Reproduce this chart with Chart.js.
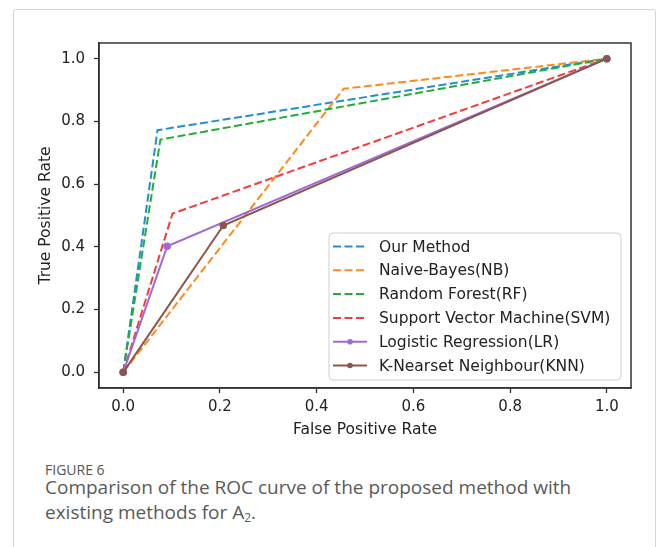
<!DOCTYPE html>
<html>
<head>
<meta charset="utf-8">
<script src="https://cdn.jsdelivr.net/npm/chart.js@4.4.1/dist/chart.umd.min.js"></script>
<style>
    html, body { margin: 0; padding: 0; background: #fff; }
    body { width: 658px; height: 547px; position: relative; overflow: hidden; }
    .frame { position: absolute; left: 13px; top: 9px; width: 641px; height: 600px; border: 1px solid #d6d6d6; border-radius: 3px; }
    #chart-wrap { position: absolute; left: 0; top: 0; width: 658px; height: 440px; }
    .fig-label { position: absolute; left: 45px; top: 460px; font: 14px "Open Sans", sans-serif; color: #555; }
    .fig-caption { position: absolute; left: 45px; top: 475px; width: 540px; font: 19px/25px "Open Sans", sans-serif; color: #5a5a5a; }
    .fig-caption sub { font-size: 12px; vertical-align: -3px; line-height: 0; }
</style>
</head>
<body>
<div class="frame"></div>
<div id="chart-wrap"><canvas id="rocChart" width="658" height="440"></canvas></div>
<div class="fig-label">FIGURE 6</div>
<div class="fig-caption">Comparison of the ROC curve of the proposed method with existing methods for A<sub>2</sub>.</div>

<script>
// ROC points (false positive rate / true positive rate)
const seriesNames = [
    "Our Method",
    "Naive-Bayes(NB)",
    "Random Forest(RF)",
    "Support Vector Machine(SVM)",
    "Logistic Regression(LR)",
    "K-Nearset Neighbour(KNN)"
];
const ourFpr = [0, 0.071, 1];
const ourTpr = [0, 0.772, 1];
const nbFpr = [0, 0.456, 1];
const nbTpr = [0, 0.904, 1];
const rfFpr = [0, 0.077, 1];
const rfTpr = [0, 0.742, 1];
const svmFpr = [0, 0.102, 1];
const svmTpr = [0, 0.506, 1];
const lrFpr = [0, 0.091, 1];
const lrTpr = [0, 0.402, 1];
const knnFpr = [0, 0.207, 1];
const knnTpr = [0, 0.468, 1];

const xTickValues = [0, 0.2, 0.4, 0.6, 0.8, 1.0];
const yTickValues = [0, 0.2, 0.4, 0.6, 0.8, 1.0];

const seriesFpr = [ourFpr, nbFpr, rfFpr, svmFpr, lrFpr, knnFpr];
const seriesTpr = [ourTpr, nbTpr, rfTpr, svmTpr, lrTpr, knnTpr];

// styling
const seriesColors = ["#1f8fd2", "#ff8a1c", "#22ad3a", "#f43c3c", "#9d6ad8", "#8c564b"];
const dashed = [true, true, true, true, false, false];
const withMarker = [false, false, false, false, true, true];
const DASH = [8, 3.5];

const tickFont = { family: "'DejaVu Sans', sans-serif", size: 15 };
const labelFont = { family: "'DejaVu Sans', sans-serif", size: 15.5 };

const datasets = seriesNames.map((name, i) => ({
    label: name,
    data: seriesFpr[i].map((x, j) => ({ x, y: seriesTpr[i][j] })),
    borderColor: seriesColors[i],
    backgroundColor: seriesColors[i],
    borderWidth: 2,
    borderDash: dashed[i] ? DASH : [],
    pointRadius: withMarker[i] ? 2.8 : 0,
    pointHoverRadius: 0,
    tension: 0,
    fill: false,
    order: seriesNames.length - i   // later series drawn on top, like matplotlib
}));

// frame around the axes + boxed legend in the lower right
const framePlugin = {
    id: "frameAndLegend",
    afterDraw(chart) {
        const ctx = chart.ctx;
        const a = chart.chartArea;
        ctx.save();
        ctx.strokeStyle = "#333";
        ctx.lineWidth = 1.5;
        ctx.setLineDash([]);
        ctx.strokeRect(a.left, a.top, a.right - a.left, a.bottom - a.top);

        const boxW = 292, boxH = 147;
        const bx = a.right - 10 - boxW;
        const by = a.bottom - 8 - boxH;
        ctx.beginPath();
        ctx.roundRect(bx, by, boxW, boxH, 4);
        ctx.fillStyle = "rgba(255,255,255,0.85)";
        ctx.fill();
        ctx.strokeStyle = "#cfcfcf";
        ctx.lineWidth = 1;
        ctx.stroke();

        ctx.font = labelFont.size + "px " + labelFont.family;
        ctx.textBaseline = "middle";
        ctx.textAlign = "left";
        seriesNames.forEach((name, i) => {
            const cy = by + 13.5 + i * 23.8;
            ctx.strokeStyle = seriesColors[i];
            ctx.lineWidth = 2;
            ctx.setLineDash(dashed[i] ? DASH : []);
            ctx.beginPath();
            ctx.moveTo(bx + 4, cy);
            ctx.lineTo(bx + 38, cy);
            ctx.stroke();
            ctx.setLineDash([]);
            if (withMarker[i]) {
                ctx.fillStyle = seriesColors[i];
                ctx.beginPath();
                ctx.arc(bx + 21, cy, 2.8, 0, Math.PI * 2);
                ctx.fill();
            }
            ctx.fillStyle = "#222";
            ctx.fillText(name, bx + 50, cy + 1);
        });
        ctx.restore();
    }
};

new Chart(document.getElementById("rocChart").getContext("2d"), {
    type: "line",
    data: { datasets },
    plugins: [framePlugin],
    options: {
        responsive: false,
        animation: false,
        events: [],
        layout: { padding: { left: 0, top: 43, right: 27, bottom: 0 } },
        plugins: {
            legend: { display: false },
            tooltip: { enabled: false },
            title: { display: false }
        },
        scales: {
            x: {
                type: "linear",
                min: -0.05,
                max: 1.05,
                afterBuildTicks: s => { s.ticks = xTickValues.map(v => ({ value: v })); },
                afterFit: s => { s.height = 52; },
                grid: { drawOnChartArea: false, drawTicks: true, tickLength: 5, tickColor: "#333", tickWidth: 1.3 },
                border: { display: true, color: "#333", width: 1.5 },
                ticks: {
                    padding: 5,
                    color: "#222",
                    font: tickFont,
                    maxRotation: 0,
                    callback: v => Number(v).toFixed(1)
                },
                title: {
                    display: true,
                    text: "False Positive Rate",
                    color: "#222",
                    font: labelFont,
                    padding: { top: 0, bottom: 1 }
                }
            },
            y: {
                type: "linear",
                min: -0.05,
                max: 1.05,
                afterBuildTicks: s => { s.ticks = yTickValues.map(v => ({ value: v })); },
                afterFit: s => { s.width = 99; },
                grid: { drawOnChartArea: false, drawTicks: true, tickLength: 5, tickColor: "#333", tickWidth: 1.3 },
                border: { display: true, color: "#333", width: 1.5 },
                ticks: {
                    padding: 9,
                    color: "#222",
                    font: tickFont,
                    callback: v => Number(v).toFixed(1)
                },
                title: {
                    display: true,
                    text: "True Positive Rate",
                    color: "#222",
                    font: labelFont,
                    padding: { top: 37, bottom: 0 }
                }
            }
        }
    }
});
</script>
</body>
</html>
